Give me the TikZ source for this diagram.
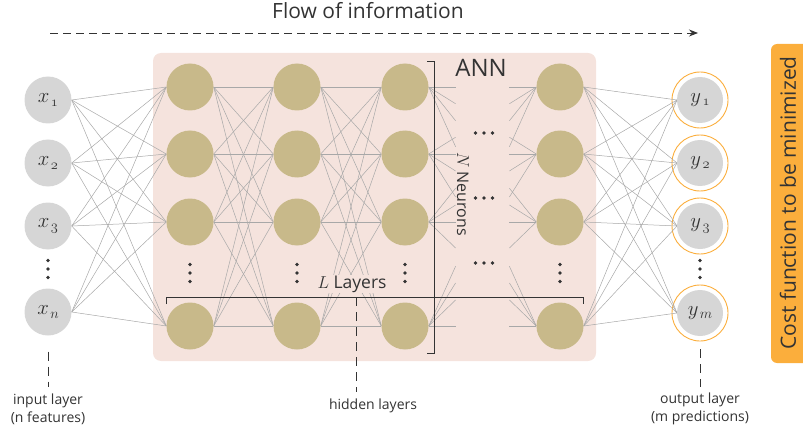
\documentclass[tikz,border=0pt]{standalone}
\usepackage{fontspec}
\setmainfont{Open Sans}
\usetikzlibrary{arrows.meta,calc}
\definecolor{hidfill}{HTML}{C8B98A}
\definecolor{annbg}{HTML}{F5E3DD}
\definecolor{ingray}{HTML}{D6D6D6}
\definecolor{costorange}{HTML}{FBAE3C}
\definecolor{edgegray}{HTML}{A8A8A8}
\definecolor{inkdark}{HTML}{333333}
\pgfdeclarelayer{bg}
\pgfdeclarelayer{edges}
\pgfsetlayers{bg,edges,main}
% neuron label: symbol with a lowered index
\newcommand{\nlab}[2]{\fontsize{21}{21}\selectfont$#1\kern1.5pt\lower3.5pt\hbox{$\scriptstyle #2$}$}
\begin{document}
\begin{tikzpicture}[x=1pt,y=-1pt,
  inneuron/.style={circle,fill=ingray,minimum size=47pt,inner sep=0pt,text=inkdark},
  hidneuron/.style={circle,fill=hidfill,minimum size=47pt,inner sep=0pt},
  outneuron/.style={circle,fill=ingray,minimum size=46pt,inner sep=0pt,text=inkdark},
  outring/.style={draw=costorange,line width=0.9pt,fill=white},
  wire/.style={draw=edgegray,line width=0.5pt},
  bracketline/.style={draw=inkdark,line width=0.8pt},
  pointer/.style={draw=inkdark,line width=0.8pt,dash pattern=on 9pt off 6pt},
  dotmark/.style={fill=inkdark},
  caption/.style={font=\fontsize{14}{18}\selectfont,text=inkdark,align=center}]
\useasboundingbox (0,0) rectangle (803,433);

% title and flow arrow
\node[font=\fontsize{21}{21}\selectfont,text=inkdark] (title) at (368,11) {Flow of information};
\coordinate (flowstart) at (50,33);
\coordinate (flowend) at (698,33);
\draw[draw=inkdark,line width=0.9pt,dash pattern=on 8pt off 5pt,-{Stealth[length=9pt,width=7pt]}] (flowstart) -- (flowend);

% ANN panel
\begin{pgfonlayer}{bg}
  \fill[annbg,rounded corners=8pt] (153,53) rectangle (596,361);
\end{pgfonlayer}

% input layer
\foreach \i/\y/\s in {1/100/\mathnormal{1},2/163/\mathnormal{2},3/226/\mathnormal{3},4/312/n} {
  \node[inneuron] (in\i) at (48,\y) {\nlab{x}{\s}};
}

% hidden layers
\foreach \c/\x in {1/190,2/297,3/405,4/560} {
  \foreach \r/\y in {1/87,2/154,3/222,4/326} {
    \node[hidneuron] (h\c\r) at (\x,\y) {};
  }
}

% output layer
\foreach \i/\y/\s in {1/100/\mathnormal{1},2/163/\mathnormal{2},3/226/\mathnormal{3},4/313/m} {
  \node[outneuron] (out\i) at (700,\y) {\nlab{y}{\s}};
}
\begin{pgfonlayer}{bg}
  \foreach \i in {1,...,4} {
    \path[outring] (out\i.center) circle (28pt);
  }
\end{pgfonlayer}

% connections
\begin{pgfonlayer}{edges}
  \foreach \a in {1,...,4} {
    \foreach \b in {1,...,4} {
      \draw[wire] (in\a.east) -- (h1\b.west);
      \draw[wire] (h1\a.east) -- (h2\b.west);
      \draw[wire] (h2\a.east) -- (h3\b.west);
      \draw[wire] (h3\a.east) -- ($(h3\a.east)!0.25!(h4\b.west)$);
      \draw[wire] ($(h4\b.west)!0.25!(h3\a.east)$) -- (h4\b.west);
      \draw[wire] (h4\a.east) -- ($(out\b.center)+(-23,0)$);
    }
  }
\end{pgfonlayer}

% vertical ellipses
\foreach \x/\y in {48/269,190/273,297/273,405/273,560/273,700/269} {
  \foreach \d in {-8.5,0,8.5} {
    \fill[dotmark] (\x,\y+\d) circle (1.8pt);
  }
}
% horizontal ellipses between the last two hidden layers
\foreach \y in {133,198,263} {
  \foreach \d in {-8.5,0,8.5} {
    \fill[dotmark] (484+\d,\y) circle (1.8pt);
  }
}

% neuron count bracket
\draw[bracketline] (427,61) -- (434,61) -- (434,353) -- (427,353);
\node[font=\fontsize{24}{24}\selectfont,text=inkdark] (annlabel) at (481,68) {ANN};
\node[rotate=-90,font=\fontsize{16}{16}\selectfont,text=inkdark] (neurons) at (463,194) {$N$ Neurons};

% layer count bracket
\coordinate (lbl) at (166,297);
\coordinate (lbr) at (583,297);
\draw[bracketline] ($(lbl)+(0,7)$) -- (lbl) -- (lbr) -- ($(lbr)+(0,7)$);
\node[fill=annbg,inner sep=1pt,font=\fontsize{17.5}{17.5}\selectfont,text=inkdark] (layers) at (352,284) {$L$ Layers};

% cost function tab
\fill[costorange,rounded corners=6pt] (771,44) rectangle (812,363);
\node[rotate=90,font=\fontsize{21}{21}\selectfont,text=inkdark] (cost) at (788,203) {Cost function to be minimized};

% layer captions
\node[caption] (incap) at (48,409) {input layer\\(n features)};
\node[caption] (hidcap) at (373,406) {hidden layers};
\node[caption] (outcap) at (700,409) {output layer\\(m predictions)};
\coordinate (hidtop) at (356,297);
\draw[pointer] (in4.south) ++(0,16) coordinate (intop) -- (48,387);
\draw[pointer] (hidtop) -- (356,392);
\draw[pointer] (out4.south) ++(0,13) coordinate (outtop) -- (700,387);
\end{tikzpicture}
\end{document}
